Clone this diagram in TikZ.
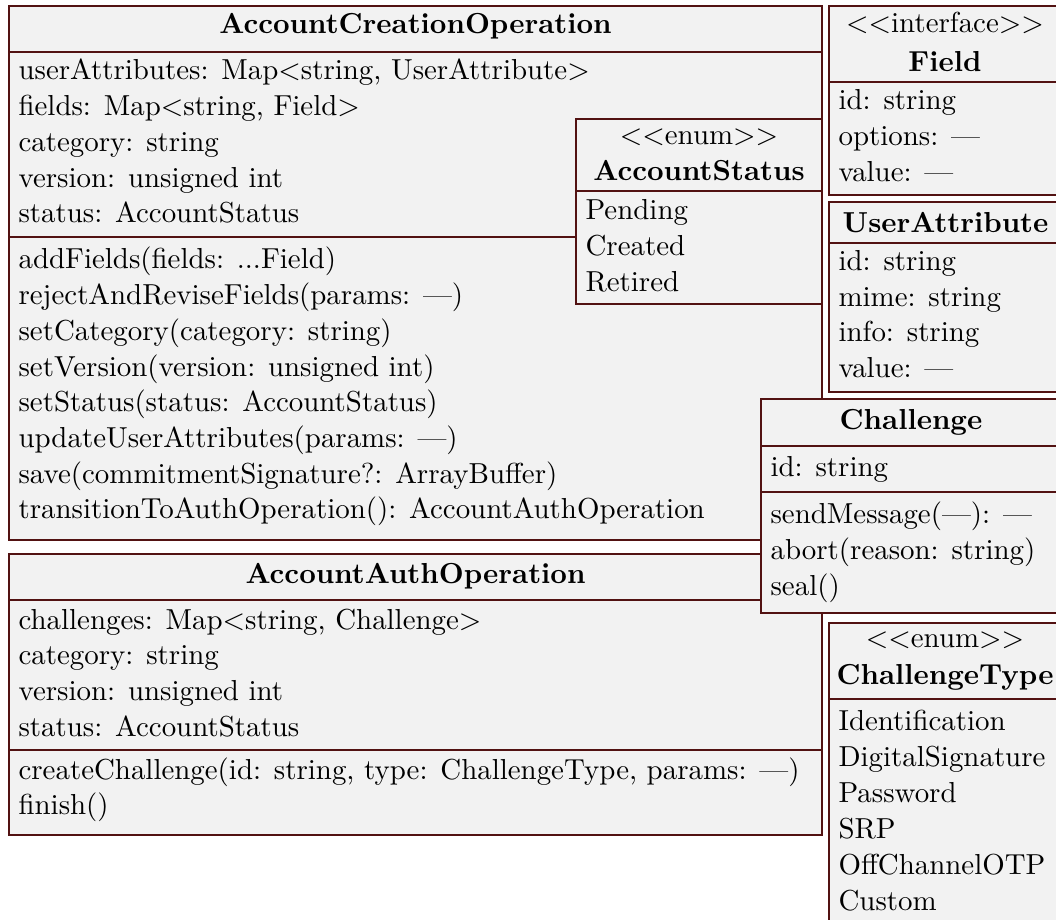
\documentclass[tikz,border=0pt]{standalone}
\definecolor{umlline}{RGB}{82,18,18}
\definecolor{umlfill}{RGB}{242,242,242}
% three periods, kept out of \foreach lists where "..." means a range
\newcommand\tridot{.{}.{}.}
% stereotype in guillemet-free angle brackets
\newcommand\stereotype[1]{$<<$#1$>>$}
% one row node per entry, stacked from a first baseline with a fixed pitch
\newcommand\umlrows[5]{%
  \foreach \entry [count=\k from 0] in {#5}{%
    \node[row] (#1-\k) at (#2,{#3+#4*\k}) {\entry};}}
\begin{document}
\begin{tikzpicture}[x=0.346pt,y=-0.346pt,
  box/.style={draw=umlline,fill=umlfill,line width=0.6pt},
  rule/.style={draw=umlline,line width=0.6pt},
  row/.style={anchor=base west,inner sep=0pt},
  head/.style={anchor=base,inner sep=0pt,font=\bfseries},
  stereo/.style={anchor=base,inner sep=0pt}]
\useasboundingbox (0,0) rectangle (1056,920);
\clip (0,0) rectangle (1056,920);

% AccountCreationOperation
\draw[box] (9,6) rectangle (822,540);
\draw[rule] (9,52) -- (822,52) (9,237) -- (822,237);
\node[head] (aco) at (415.5,34) {AccountCreationOperation};
\umlrows{acoA}{18}{80}{35.7}{{userAttributes: Map<string, UserAttribute>},{fields: Map<string, Field>},{category: string},{version: unsigned int},{status: AccountStatus}}
\umlrows{acoM}{18}{269}{35.7}{{addFields(fields: \tridot Field)},{rejectAndReviseFields(params: \textemdash)},{setCategory(category: string)},{setVersion(version: unsigned int)},{setStatus(status: AccountStatus)},{updateUserAttributes(params: \textemdash)},{save(commitmentSignature?: ArrayBuffer)},{transitionToAuthOperation(): AccountAuthOperation}}

% AccountAuthOperation
\draw[box] (9,554) rectangle (822,835);
\draw[rule] (9,600) -- (822,600) (9,750) -- (822,750);
\node[head] (aao) at (415.5,583) {AccountAuthOperation};
\umlrows{aaoA}{18}{629}{35.7}{{challenges: Map<string, Challenge>},{category: string},{version: unsigned int},{status: AccountStatus}}
\umlrows{aaoM}{18}{779}{35.7}{{createChallenge(id: string, type: ChallengeType, params: \textemdash)},{finish()}}

% AccountStatus
\draw[box] (576,119) rectangle (822,304);
\draw[rule] (576,191) -- (822,191);
\node[stereo] (asS) at (699,145) {\stereotype{enum}};
\node[head] (as) at (699,181) {AccountStatus};
\umlrows{asV}{585}{220}{36}{Pending,Created,Retired}

% Field
\draw[box] (829,6) rectangle (1062,195);
\draw[rule] (829,82) -- (1062,82);
\node[stereo] (fS) at (945,33) {\stereotype{interface}};
\node[head] (f) at (945,72) {Field};
\umlrows{fA}{838}{110}{36}{{id: string},{options: \textemdash},{value: \textemdash}}

% UserAttribute
\draw[box] (829,202) rectangle (1062,392);
\draw[rule] (829,243) -- (1062,243);
\node[head] (ua) at (945.5,233) {UserAttribute};
\umlrows{uaA}{838}{271}{35.5}{{id: string},{mime: string},{info: string},{value: \textemdash}}

% Challenge
\draw[box] (761,399) rectangle (1062,613);
\draw[rule] (761,446) -- (1062,446) (761,492) -- (1062,492);
\node[head] (ch) at (911,430) {Challenge};
\umlrows{chA}{770}{477}{36}{{id: string}}
\umlrows{chM}{770}{523}{36}{{sendMessage(\textemdash): \textemdash},{abort(reason: string)},{seal()}}

% ChallengeType
\draw[box] (829,623) rectangle (1062,940);
\draw[rule] (829,699) -- (1062,699);
\node[stereo] (ctS) at (945,647) {\stereotype{enum}};
\node[head] (ct) at (945,684) {ChallengeType};
\umlrows{ctV}{838}{730}{36}{Identification,DigitalSignature,Password,SRP,OffChannelOTP,Custom}
\end{tikzpicture}
\end{document}
